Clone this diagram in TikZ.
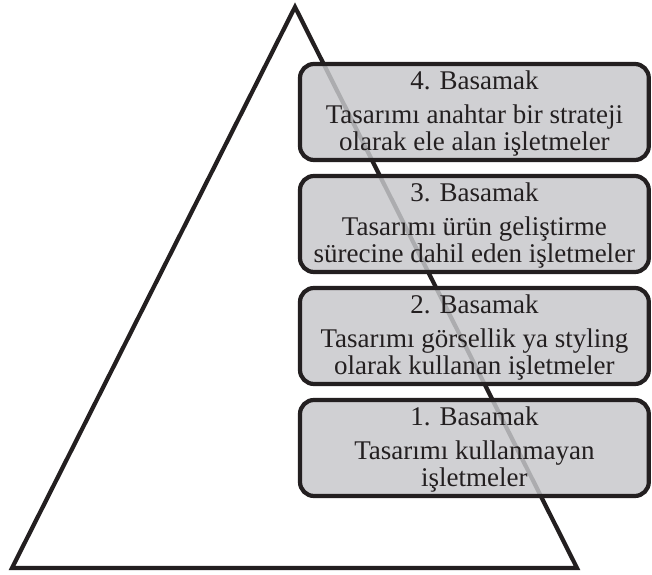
\documentclass[tikz,border=0pt]{standalone}
\usepackage{fontspec}
\setmainfont{Liberation Serif}
\usetikzlibrary{positioning}

\definecolor{inkblack}{RGB}{35,31,32}
\definecolor{boxgray}{RGB}{199,200,203}

\begin{document}
\begin{tikzpicture}[x=1cm,y=1cm,text=inkblack,
  pyramid/.style={draw=inkblack,line width=3pt},
  stepbox/.style={draw=inkblack,line width=3pt,fill=boxgray,fill opacity=.84,draw opacity=1,
    rounded corners=.35cm,minimum width=8.72cm,minimum height=2.4cm,inner sep=0pt},
  steptitle/.style={font=\fontsize{19.2}{19.2}\selectfont,inner sep=0pt,anchor=base},
  stepbody/.style={font=\fontsize{19.2}{19.2}\selectfont,align=center,inner sep=0pt,anchor=base}]
\useasboundingbox (0,0) rectangle (16.3,14.375);
\fill[white] (0,0) rectangle (16.3,14.375);

% PYRAMID
\coordinate (apex) at (7.375,14.2);
\coordinate (baseR) at (14.425,.175);
\coordinate (baseL) at (.3,.175);
\draw[pyramid] (apex) -- (baseR) -- (baseL) -- cycle;

% STEPS
\node[stepbox] (s4) at (11.86,11.575) {};
\node[steptitle] (t4) at ([yshift=-.7cm]s4.north) {4. Basamak};
\node[stepbody] (d4) at ([yshift=-2.225cm]s4.north) {Tasarımı anahtar bir strateji\\olarak ele alan işletmeler};

\node[stepbox] (s3) at (11.86,8.775) {};
\node[steptitle] (t3) at ([yshift=-.7cm]s3.north) {3. Basamak};
\node[stepbody] (d3) at ([yshift=-2.225cm]s3.north) {Tasarımı ürün geliştirme\\sürecine dahil eden işletmeler};

\node[stepbox] (s2) at (11.86,5.975) {};
\node[steptitle] (t2) at ([yshift=-.7cm]s2.north) {2. Basamak};
\node[stepbody] (d2) at ([yshift=-2.225cm]s2.north) {Tasarımı görsellik ya styling\\olarak kullanan işletmeler};

\node[stepbox] (s1) at (11.86,3.175) {};
\node[steptitle] (t1) at ([yshift=-.7cm]s1.north) {1. Basamak};
\node[stepbody] (d1) at ([yshift=-2.225cm]s1.north) {Tasarımı kullanmayan\\işletmeler};
\end{tikzpicture}
\end{document}
